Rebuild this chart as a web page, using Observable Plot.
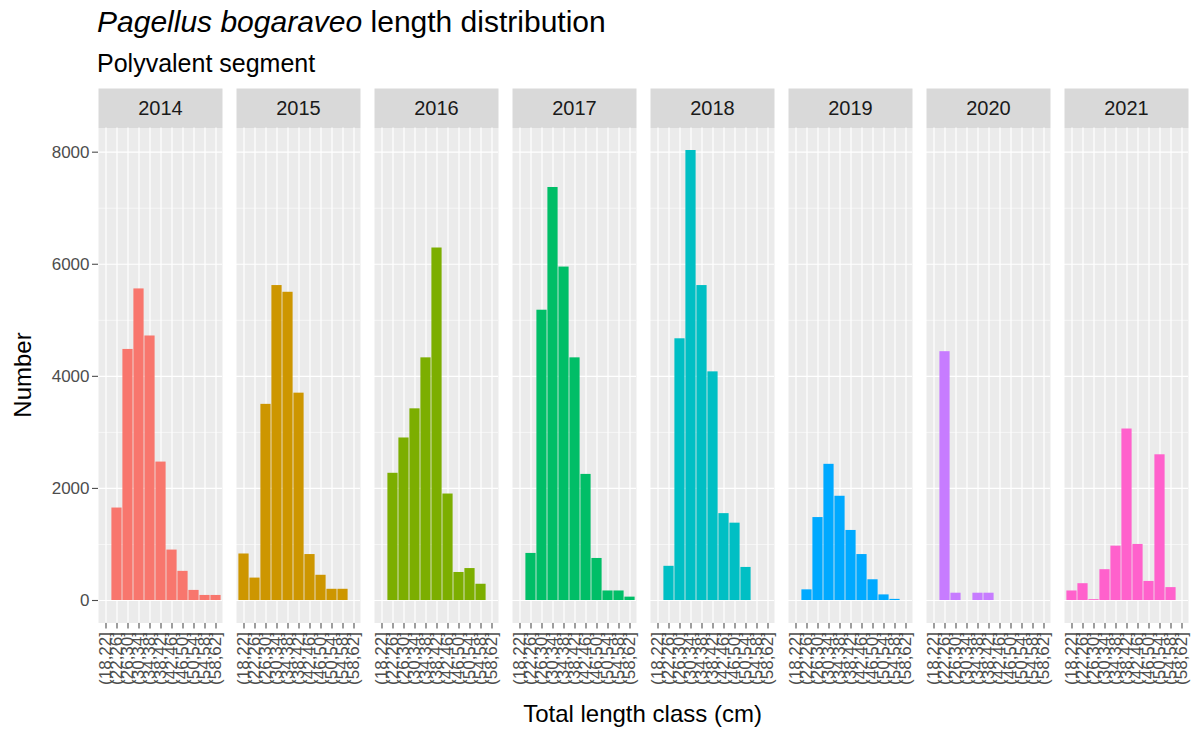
<!DOCTYPE html>
<html>
<head>
<meta charset="utf-8">
<script src="https://cdn.jsdelivr.net/npm/d3@7"></script>
<script src="https://cdn.jsdelivr.net/npm/@observablehq/plot@0.6"></script>
<style>
  body { margin: 0; background: #fff; font-family: "Liberation Sans", Arial, sans-serif; }
  #title { height: 41px; padding-top: 1px; padding-left: 97px; font-size: 30px; line-height: 42px; color: #000; white-space: nowrap; }
  #subtitle { height: 36px; padding-top: 2px; padding-left: 97px; font-size: 25px; line-height: 38px; color: #000; white-space: nowrap; }
  #chart svg { display: block; }
  #chart [aria-label="x-axis tick"], #chart [aria-label="y-axis tick"] { stroke: #333333; stroke-width: 1.1; }
</style>
</head>
<body>
<div id="title"><i>Pagellus bogaraveo</i> length distribution</div>
<div id="subtitle">Polyvalent segment</div>
<div id="chart"></div>
<script>
// ---- data ----
const years = ["2014", "2015", "2016", "2017", "2018", "2019", "2020", "2021"];
const lengthClasses = ["(18,22]", "(22,26]", "(26,30]", "(30,34]", "(34,38]", "(38,42]",
                       "(42,46]", "(46,50]", "(50,54]", "(54,58]", "(58,62]"];
const n2014 = [null, 1650, 4480, 5560, 4720, 2470, 900, 520, 180, 90, 90];
const n2015 = [830, 400, 3500, 5620, 5500, 3700, 820, 450, 200, 200, null];
const n2016 = [null, 2270, 2900, 3420, 4330, 6290, 1900, 500, 570, 290, null];
const n2017 = [null, 840, 5180, 7370, 5950, 4330, 2250, 750, 170, 170, 60];
const n2018 = [null, 610, 4670, 8030, 5620, 4080, 1550, 1380, 590, null, null];
const n2019 = [null, 190, 1480, 2430, 1860, 1250, 820, 370, 100, 20, null];
const n2020 = [null, 4440, 130, null, 130, 130, null, null, null, null, null];
const n2021 = [170, 300, 15, 550, 970, 3060, 1000, 340, 2600, 230, null];
const yTicks = [0, 2000, 4000, 6000, 8000];
const yMinor = [1000, 3000, 5000, 7000];
const palette = ["#F8766D", "#CD9600", "#7CAE00", "#00BE67", "#00BFC4", "#00A9FF", "#C77CFF", "#FF61CC"];

const series = [n2014, n2015, n2016, n2017, n2018, n2019, n2020, n2021];
const rows = [];
years.forEach((yr, i) => series[i].forEach((v, j) => {
  if (v != null) rows.push({year: yr, cls: lengthClasses[j], n: v});
}));
const yMax = d3.max(rows, d => d.n);
const pad = yMax * 0.05;

const W = 1197, H = 653, mT = 47.5, mB = 110.5;
const chart = Plot.plot({
  width: W, height: H,
  marginTop: mT, marginBottom: mB, marginLeft: 97, marginRight: 9,
  style: {fontFamily: '"Liberation Sans", Arial, sans-serif', fontSize: "17px", color: "#4D4D4D", background: "transparent"},
  fx: {domain: years, paddingInner: 0.102, paddingOuter: 0, axis: null, label: null},
  x: {domain: lengthClasses, paddingInner: 0, paddingOuter: 0.1, tickRotate: -90, tickSize: 6, tickPadding: 3, label: null},
  y: {domain: [-pad, yMax + pad], ticks: yTicks, tickFormat: d3.format("d"), tickSize: 6, tickPadding: 3, label: null},
  color: {domain: years, range: palette},
  marks: [
    Plot.frame({fill: "#EBEBEB", stroke: "none"}),
    Plot.frame({fill: "#D9D9D9", stroke: "none", insetTop: -39.5, insetBottom: H - mT - mB}),
    Plot.ruleY(yMinor, {stroke: "white", strokeWidth: 0.6}),
    Plot.ruleY(yTicks, {stroke: "white", strokeWidth: 1.2}),
    Plot.ruleX(lengthClasses, {stroke: "white", strokeWidth: 1.2}),
    Plot.barY(rows, {fx: "year", x: "cls", y: "n", fill: "year", insetLeft: 0.4, insetRight: 0.4}),
    Plot.text(years, {fx: d => d, text: d => d, frameAnchor: "top", lineAnchor: "middle", dy: -19.75, fontSize: 20, fill: "#1A1A1A"})
  ]
});
document.getElementById("chart").appendChild(chart);

const svg = d3.select(chart);
svg.append("text")
  .attr("x", (97 + W - 9) / 2).attr("y", 642)
  .attr("text-anchor", "middle")
  .attr("font-size", 24).attr("fill", "#000")
  .style("font-family", '"Liberation Sans", Arial, sans-serif')
  .text("Total length class (cm)");
svg.append("text")
  .attr("transform", `translate(31,${375 - 80}) rotate(-90)`)
  .attr("text-anchor", "middle")
  .attr("font-size", 24).attr("fill", "#000")
  .style("font-family", '"Liberation Sans", Arial, sans-serif')
  .text("Number");
</script>
</body>
</html>
